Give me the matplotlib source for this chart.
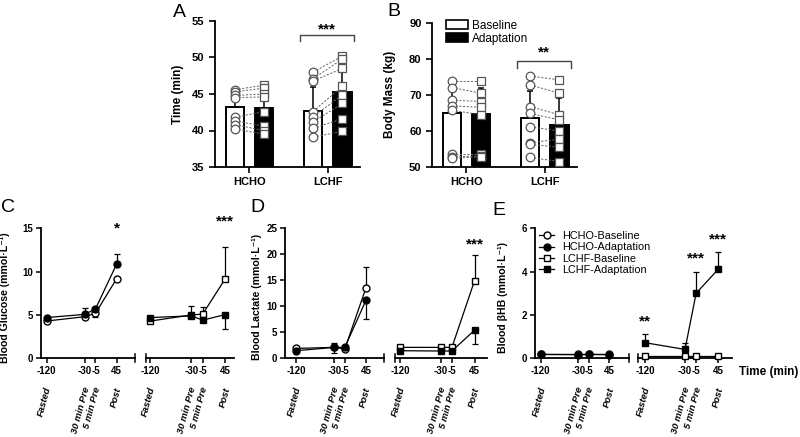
import matplotlib
matplotlib.use('Agg')
import matplotlib.pyplot as plt
from matplotlib.lines import Line2D
from matplotlib.patches import Patch
import numpy as np

plt.rcParams['font.family'] = ['Liberation Sans', 'DejaVu Sans']
plt.rcParams['font.weight'] = 'bold'

# ---------------- data ----------------
groups = ['HCHO', 'LCHF']

# panel A: time trial (min)
time_mean_base = [43.2, 42.7]
time_mean_adapt = [43.1, 45.3]
time_sd_base = [1.4, 3.2]
time_sd_adapt = [1.5, 3.9]
time_hcho_base = [45.6, 45.3, 44.8, 44.5, 41.8, 41.3, 40.8, 40.2]
time_hcho_adapt = [46.2, 45.8, 45.0, 44.6, 42.6, 40.6, 40.0, 39.5]
time_lchf_base = [48.0, 47.1, 46.8, 42.6, 41.9, 41.2, 40.3, 39.1]
time_lchf_adapt = [50.2, 49.8, 48.5, 46.1, 44.9, 43.7, 41.6, 39.9]

# panel B: body mass (kg)
mass_mean_base = [64.8, 63.4]
mass_mean_adapt = [64.6, 61.6]
mass_sd_base = [7.6, 7.7]
mass_sd_adapt = [7.4, 7.4]
mass_hcho_base = [73.9, 72.0, 68.5, 66.9, 65.7, 53.5, 52.8, 52.3]
mass_hcho_adapt = [73.9, 70.4, 68.1, 66.5, 64.4, 53.5, 52.9, 52.8]
mass_lchf_base = [75.2, 72.7, 66.7, 64.8, 61.1, 56.7, 56.2, 52.6]
mass_lchf_adapt = [74.1, 70.4, 64.4, 63.0, 59.9, 57.6, 55.4, 51.4]

# panels C-E: time course
times = [-120, -30, -5, 45]
time_names = ['Fasted', '30 min Pre', '5 min Pre', 'Post']

glu_hcho_base = [4.3, 4.8, 5.2, 9.2]
glu_hcho_base_lo = [0, 0, 0.4, 0]
glu_hcho_base_hi = [0, 0, 0, 0]
glu_hcho_adapt = [4.7, 5.07, 5.7, 10.9]
glu_hcho_adapt_lo = [0, 0, 0, 0]
glu_hcho_adapt_hi = [0, 0.7, 0, 1.1]
glu_lchf_base = [4.3, 5.0, 5.1, 9.2]
glu_lchf_base_lo = [0, 0, 0, 0]
glu_lchf_base_hi = [0, 1.05, 0.85, 3.6]
glu_lchf_adapt = [4.7, 4.9, 4.4, 5.05]
glu_lchf_adapt_lo = [0, 0, 0, 1.65]
glu_lchf_adapt_hi = [0, 0, 0, 0]

lac_hcho_base = [1.9, 2.1, 1.8, 13.6]
lac_hcho_base_lo = [0, 0, 0, 0]
lac_hcho_base_hi = [0.4, 0.9, 0, 3.9]
lac_hcho_adapt = [1.46, 2.1, 2.1, 11.2]
lac_hcho_adapt_lo = [0, 1.0, 0, 3.7]
lac_hcho_adapt_hi = [0, 0, 0, 0]
lac_lchf_base = [2.1, 2.1, 2.1, 14.9]
lac_lchf_base_lo = [0, 0, 0, 0]
lac_lchf_base_hi = [0, 0, 0, 4.9]
lac_lchf_adapt = [1.46, 1.4, 1.4, 5.4]
lac_lchf_adapt_lo = [0, 0, 0, 2.7]
lac_lchf_adapt_hi = [0, 0, 0, 0]

bhb_hcho_base = [0.2, 0.2, 0.2, 0.2]
bhb_hcho_adapt = [0.18, 0.17, 0.18, 0.17]
bhb_lchf_base = [0.1, 0.1, 0.1, 0.1]
bhb_lchf_adapt = [0.72, 0.41, 3.0, 4.12]
bhb_lchf_adapt_hi = [0.4, 0.3, 1.0, 0.77]
zeros4 = [0, 0, 0, 0]

W, H = 800, 437
fig = plt.figure(figsize=(W / 100, H / 100), dpi=100)


def px_axes(x0, x1, ytop, ybot):
    ax = fig.add_axes([x0 / W, 1 - ybot / H, (x1 - x0) / W, (ybot - ytop) / H])
    ax.patch.set_visible(False)
    return ax


def style_spines(ax, left=True):
    ax.spines['top'].set_visible(False)
    ax.spines['right'].set_visible(False)
    ax.spines['left'].set_visible(left)
    ax.spines['left'].set_linewidth(1.3)
    ax.spines['bottom'].set_linewidth(1.3)


def bold_ticks(ax):
    for lab in ax.get_xticklabels() + ax.get_yticklabels():
        lab.set_fontweight('bold')


# ---------------- top bar panels ----------------
def bar_panel(ax, mb, ma, sb, sa, pts, ylim, yticks, ylabel, lab_x):
    x = np.arange(len(groups))
    off, wd = 0.186, 0.235
    ax.bar(x - off, mb, wd, color='white', edgecolor='black', lw=1.4, zorder=2)
    ax.bar(x + off, ma, wd, color='black', edgecolor='black', lw=1.4, zorder=2)
    ax.errorbar(x - off, mb, yerr=[np.zeros(2), sb], fmt='none', ecolor='black',
                elinewidth=1.1, capsize=2.5, capthick=1.1, zorder=3)
    ax.errorbar(x + off, ma, yerr=[np.zeros(2), sa], fmt='none', ecolor='black',
                elinewidth=1.1, capsize=2.5, capthick=1.1, zorder=1)
    for g, (pb, pa) in enumerate(pts):
        for b, a in zip(pb, pa):
            ax.plot([g - off, g + off], [b, a], ls=(0, (2.2, 1.6)), color='#666666',
                    lw=0.7, zorder=4)
        ax.plot([g - off] * len(pb), pb, 'o', mfc='white', mec='#555555', ms=6.2,
                mew=0.9, zorder=5)
        ax.plot([g + off] * len(pa), pa, 's', mfc='white', mec='#555555', ms=5.6,
                mew=0.9, zorder=5)
    ax.set_xlim(-0.44, 1.41)
    ax.set_ylim(*ylim)
    ax.set_yticks(yticks)
    ax.set_xticks(x)
    ax.set_xticklabels(groups)
    ax.tick_params(labelsize=8, width=1.2, length=4, direction='out')
    bold_ticks(ax)
    style_spines(ax)
    ax.set_ylabel(ylabel, fontsize=8.5, fontweight='bold')
    ax.yaxis.set_label_coords(lab_x, 0.5)


axA = px_axes(215, 360, 21, 167)
bar_panel(axA, time_mean_base, time_mean_adapt, time_sd_base, time_sd_adapt,
          [(time_hcho_base, time_hcho_adapt), (time_lchf_base, time_lchf_adapt)],
          (35, 55), [35, 40, 45, 50, 55], 'Time (min)', (183.5 - 215) / 145)
axA.plot([0.64, 0.64, 1.33, 1.33], [52.2, 53.1, 53.1, 52.2], color='#444444', lw=1.0,
         clip_on=False)
axA.text(0.985, 53.9, '***', ha='center', va='center', fontsize=11, fontweight='bold')

axB = px_axes(432, 577, 22.7, 166.7)
bar_panel(axB, mass_mean_base, mass_mean_adapt, mass_sd_base, mass_sd_adapt,
          [(mass_hcho_base, mass_hcho_adapt), (mass_lchf_base, mass_lchf_adapt)],
          (50, 90), [50, 60, 70, 80, 90], 'Body Mass (kg)', (396.5 - 432) / 145)
axB.plot([0.645, 0.645, 1.337, 1.337], [77.3, 79.4, 79.4, 77.3], color='#444444',
         lw=1.0, clip_on=False)
axB.text(0.99, 81.6, '**', ha='center', va='center', fontsize=11, fontweight='bold')
axB.legend(handles=[Patch(facecolor='white', edgecolor='black', lw=1.2, label='Baseline'),
                    Patch(facecolor='black', edgecolor='black', lw=1.2, label='Adaptation')],
           loc='upper left', bbox_to_anchor=(446 / W, 1 - 20 / H),
           bbox_transform=fig.transFigure, frameon=False,
           prop={'weight': 'normal', 'size': 8.5}, handlelength=1.9, handleheight=0.8,
           handletextpad=0.3, labelspacing=0.05, borderpad=0, borderaxespad=0)


# ---------------- bottom time-course panels ----------------
def series(ax, y, lo, hi, marker, filled):
    y = np.asarray(y, float)
    lo = np.asarray(lo, float)
    hi = np.asarray(hi, float)
    t = np.asarray(times, float)
    m = (lo > 0) | (hi > 0)
    if m.any():
        ax.errorbar(t[m], y[m], yerr=[lo[m], hi[m]], fmt='none', ecolor='black',
                    elinewidth=0.9, capsize=2.5, capthick=0.9, zorder=2, clip_on=False)
    ax.plot(t, y, '-', color='black', lw=0.9, zorder=3, clip_on=False)
    ax.plot(t, y, marker, ls='none', mfc='black' if filled else 'white', mec='black',
            ms=5, mew=1.0, zorder=4, clip_on=False)


def time_axes(ax, xlim, ylim, yticks, left):
    ax.set_xlim(*xlim)
    ax.set_ylim(*ylim)
    ax.set_xticks(times)
    ax.set_xticklabels([str(t) for t in times])
    ax.tick_params(labelsize=7, width=1.1, length=3.5, pad=2)
    style_spines(ax, left)
    if left:
        ax.set_yticks(yticks)
        ax.plot([1, 1], [-0.03, 0.03], transform=ax.transAxes, color='black', lw=1.1,
                clip_on=False)
    else:
        ax.set_yticks([])
        ax.plot([0, 0], [-0.03, 0.03], transform=ax.transAxes, color='black', lw=1.1,
                clip_on=False)
    bold_ticks(ax)
    for t, name in zip(times, time_names):
        ax.annotate(name, xy=(t, 0), xycoords=ax.get_xaxis_transform(),
                    xytext=(1.5, -21), textcoords='offset points', rotation=75,
                    rotation_mode='anchor', ha='right', va='center', fontsize=6.8,
                    fontstyle='italic', fontweight='bold')


ytop, ybot = 228.3, 358.3

# C: glucose
cL = px_axes(40.7, 135, ytop, ybot)
cR = px_axes(145.5, 234, ytop, ybot)
series(cL, glu_hcho_base, glu_hcho_base_lo, glu_hcho_base_hi, 'o', False)
series(cL, glu_hcho_adapt, glu_hcho_adapt_lo, glu_hcho_adapt_hi, 'o', True)
series(cR, glu_lchf_base, glu_lchf_base_lo, glu_lchf_base_hi, 's', False)
series(cR, glu_lchf_adapt, glu_lchf_adapt_lo, glu_lchf_adapt_hi, 's', True)
time_axes(cL, (-134, 88), (0, 15), [0, 5, 10, 15], True)
time_axes(cR, (-131, 64), (0, 15), None, False)
cL.set_ylabel('Blood Glucose (mmol·L⁻¹)', fontsize=7.6, fontweight='bold')
cL.yaxis.set_label_coords((10.5 - 40.7) / 94.3, 0.47)
cL.text(45, 15.0, '*', ha='center', va='center', fontsize=11, fontweight='bold')
cR.text(45, 15.8, '***', ha='center', va='center', fontsize=11, fontweight='bold',
        clip_on=False)

# D: lactate
dL = px_axes(285, 384.3, ytop, ybot)
dR = px_axes(395, 486.7, ytop, ybot)
series(dL, lac_hcho_base, lac_hcho_base_lo, lac_hcho_base_hi, 'o', False)
series(dL, lac_hcho_adapt, lac_hcho_adapt_lo, lac_hcho_adapt_hi, 'o', True)
series(dR, lac_lchf_base, lac_lchf_base_lo, lac_lchf_base_hi, 's', False)
series(dR, lac_lchf_adapt, lac_lchf_adapt_lo, lac_lchf_adapt_hi, 's', True)
time_axes(dL, (-146, 88), (0, 25), [0, 5, 10, 15, 20, 25], True)
time_axes(dR, (-131, 72), (0, 25), None, False)
dL.set_ylabel('Blood Lactate (mmol·L⁻¹)', fontsize=7.6, fontweight='bold')
dL.yaxis.set_label_coords((262 - 285) / 99.3, 0.47)
dR.text(45, 21.9, '***', ha='center', va='center', fontsize=11, fontweight='bold')

# E: beta-hydroxybutyrate
eL = px_axes(535, 629, ytop, ybot)
eR = px_axes(638.3, 731.7, ytop, ybot)
series(eL, bhb_hcho_base, zeros4, zeros4, 'o', False)
series(eL, bhb_hcho_adapt, zeros4, zeros4, 'o', True)
series(eR, bhb_lchf_base, zeros4, zeros4, 's', False)
series(eR, bhb_lchf_adapt, zeros4, bhb_lchf_adapt_hi, 's', True)
time_axes(eL, (-134, 92), (0, 6), [0, 2, 4, 6], True)
time_axes(eR, (-135, 75), (0, 6), None, False)
eL.set_ylabel('Blood βHB (mmol·L⁻¹)', fontsize=7.6, fontweight='bold')
eL.yaxis.set_label_coords((508 - 535) / 94, 0.47)
eR.text(-120, 1.72, '**', ha='center', va='center', fontsize=11, fontweight='bold')
eR.text(-5, 4.6, '***', ha='center', va='center', fontsize=11, fontweight='bold')
eR.text(45, 5.5, '***', ha='center', va='center', fontsize=11, fontweight='bold')

leg_handles = [
    Line2D([], [], color='black', lw=0.9, marker='o', mfc='white', mec='black', ms=5),
    Line2D([], [], color='black', lw=0.9, marker='o', mfc='black', mec='black', ms=5),
    Line2D([], [], color='black', lw=0.9, marker='s', mfc='white', mec='black', ms=5),
    Line2D([], [], color='black', lw=0.9, marker='s', mfc='black', mec='black', ms=5),
]
leg = eL.legend(leg_handles, ['HCHO-Baseline', 'HCHO-Adaptation', 'LCHF-Baseline',
                              'LCHF-Adaptation'],
                loc='upper left', bbox_to_anchor=(539 / W, 1 - 231 / H),
                bbox_transform=fig.transFigure, frameon=False,
                prop={'weight': 'normal', 'size': 7.8}, handlelength=1.4,
                handletextpad=0.7, labelspacing=0.12, borderpad=0, borderaxespad=0)
leg.set_zorder(10)

fig.text(739 / W, 1 - 372 / H, 'Time (min)', ha='left', va='center', fontsize=8.5,
         fontweight='bold')

# panel letters
for lab, px, py in [('A', 173, 4), ('B', 387, 3), ('C', 1, 199), ('D', 250, 199),
                    ('E', 492, 202)]:
    fig.text(px / W, 1 - py / H, lab, ha='left', va='top', fontsize=14,
             fontweight='normal')

fig.savefig('out.png', dpi=100)
